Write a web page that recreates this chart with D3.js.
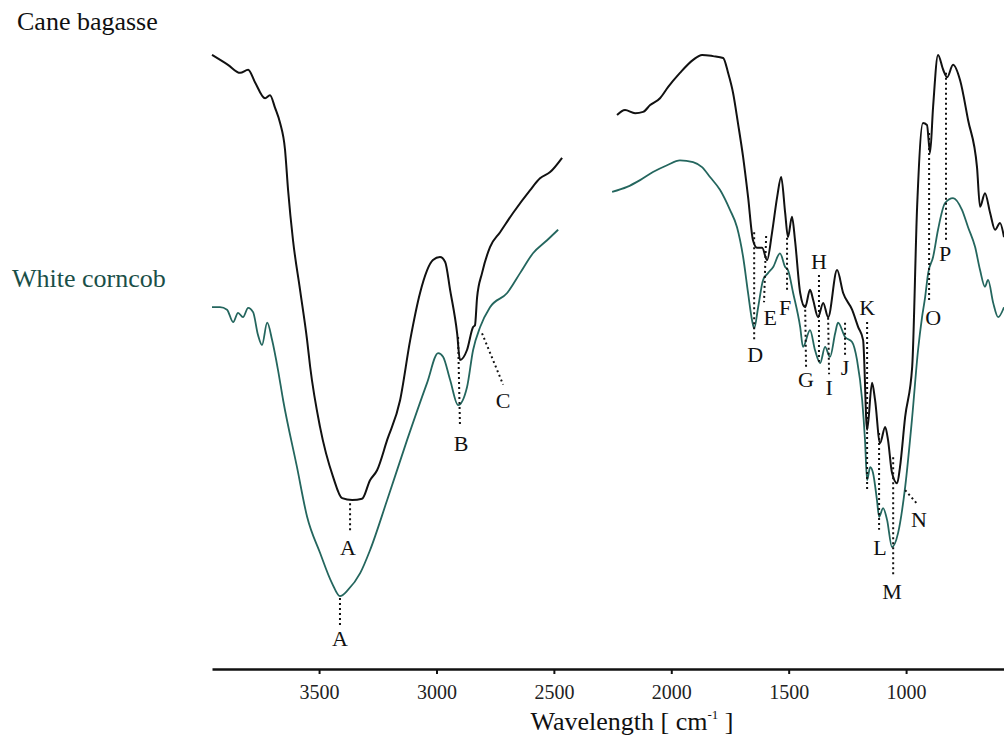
<!DOCTYPE html>
<html>
<head>
<meta charset="utf-8">
<script src="https://cdn.jsdelivr.net/npm/d3@7"></script>
<style>
  body { margin: 0; background: #fff; }
  text { font-family: "Liberation Serif", "DejaVu Serif", serif; }
</style>
</head>
<body>
<svg id="chart" width="1004" height="749"></svg>
<script>
// wavenumber [cm-1], transmittance (arbitrary units)
let bagasseHigh = [
  [3956,97.6],[3888,96.0],[3836,94.7],[3802,95.2],[3773,93.2],[3730,90.6],[3709,91.1],[3687,89.0],
  [3666,86.6],[3645,82.3],[3632,75.8],[3611,67.7],[3581,59.7],[3551,51.6],[3538,47.3],[3496,37.6],
  [3440,29.5],[3402,26.1],[3359,25.8],[3317,26.0],[3283,29.0],[3253,30.6],[3210,35.5],[3155,41.9],
  [3112,51.6],[3070,59.2],[3015,64.5],[2985,65.0],[2963,64.2],[2942,59.7],[2912,52.7],[2900,48.4],
  [2870,50.0],[2844,53.7],[2836,54.0],[2827,58.5],[2806,62.4],[2772,66.6],[2729,69.0],[2674,72.1],
  [2601,75.8],[2559,77.7],[2516,78.7],[2465,81.0]
];
let bagasseLow = [
  [2231,87.9],[2197,88.7],[2154,88.2],[2120,88.4],[2090,89.5],[2048,90.6],[2014,92.4],[1963,94.7],
  [1907,96.8],[1869,97.6],[1822,97.4],[1779,97.1],[1758,94.7],[1737,91.5],[1716,86.6],[1694,81.1],
  [1673,74.7],[1652,67.7],[1635,66.5],[1613,66.5],[1592,64.5],[1571,68.9],[1549,74.7],[1532,77.9],
  [1515,72.1],[1503,68.2],[1486,71.5],[1473,67.7],[1451,59.2],[1430,56.9],[1409,59.7],[1396,58.1],
  [1375,55.3],[1353,57.6],[1332,55.3],[1294,62.9],[1268,59.2],[1230,56.5],[1204,53.7],[1183,51.6],
  [1166,37.1],[1145,44.7],[1132,41.9],[1111,35.0],[1089,37.6],[1077,35.5],[1060,30.2],[1038,28.5],
  [1026,31.1],[1004,39.2],[974,47.3],[953,73.1],[928,86.6],[911,86.3],[898,81.8],[885,89.2],
  [864,97.6],[842,95.2],[825,94.0],[800,96.0],[770,93.5],[736,87.1],[698,79.5],[685,73.1],
  [664,75.3],[642,72.1],[621,69.4],[600,70.5],[583,68.2]
];
let corncobHigh = [
  [3956,56.9],[3922,56.9],[3892,56.5],[3866,54.5],[3845,56.0],[3824,55.3],[3802,56.8],[3781,56.1],
  [3760,52.4],[3743,50.8],[3721,54.4],[3700,51.6],[3675,46.8],[3653,41.9],[3594,31.1],[3551,23.1],
  [3496,17.3],[3445,12.4],[3411,10.3],[3377,11.3],[3325,14.0],[3283,17.7],[3210,25.8],[3125,35.5],
  [3040,44.7],[2993,49.5],[2972,48.9],[2942,45.2],[2908,41.1],[2870,44.0],[2844,50.0],[2814,53.7],
  [2772,56.9],[2699,59.2],[2644,62.4],[2589,65.6],[2529,67.7],[2482,69.4]
];
let corncobLow = [
  [2252,75.5],[2188,76.3],[2133,77.4],[2078,78.7],[2018,79.8],[1963,80.6],[1907,80.3],[1869,79.5],
  [1835,77.9],[1792,75.8],[1750,72.6],[1720,69.8],[1694,65.0],[1673,59.2],[1656,54.8],[1647,53.5],
  [1630,56.9],[1609,61.3],[1588,62.4],[1566,63.4],[1537,65.6],[1515,63.4],[1503,62.9],[1481,59.2],
  [1451,53.7],[1439,50.5],[1409,53.2],[1388,50.0],[1366,47.9],[1345,50.5],[1324,48.9],[1302,52.7],
  [1290,54.4],[1260,52.1],[1230,51.3],[1209,48.4],[1187,41.9],[1175,35.5],[1166,29.0],[1153,31.1],
  [1141,30.2],[1124,25.8],[1115,23.1],[1098,24.5],[1081,22.6],[1060,18.2],[1034,20.5],[1004,27.9],
  [974,39.2],[949,50.0],[932,55.3],[919,58.5],[906,62.4],[885,65.0],[864,69.4],[834,73.7],
  [800,74.5],[762,72.6],[736,69.8],[706,66.6],[685,62.9],[664,60.2],[651,61.3],[629,57.6],
  [608,55.3],[583,56.9]
];
// peak marks: letter, dotted line from (w1,t1) to (w2,t2), letter at (lw,lt)
let peaks = [
  ["A",3368,25.3,3368,20.6,3377,18.2],
  ["A",3411,10.0,3411,5.5,3411,3.5],
  ["B",2908,52.1,2900,37.9,2895,35.0],
  ["C",2806,52.7,2716,44.4,2716,41.9],
  ["D",1647,69.0,1647,51.6,1643,49.2],
  ["E",1596,68.4,1605,57.7,1579,55.2],
  ["F",1507,68.1,1507,59.4,1515,56.9],
  ["G",1430,57.3,1426,47.3,1426,45.2],
  ["H",1371,62.1,1371,48.1,1371,64.2],
  ["I",1332,55.2,1328,46.1,1328,44.0],
  ["J",1260,54.4,1260,49.2,1260,47.1],
  ["K",1166,54.5,1166,27.1,1166,56.8],
  ["L",1115,36.6,1115,21.0,1111,18.1],
  ["M",1055,32.7,1055,13.4,1060,11.0],
  ["N",1004,27.4,949,25.0,945,22.6],
  ["O",902,85.0,902,57.6,885,55.2],
  ["P",830,94.7,830,67.7,834,65.6]
];
let tickValues = [3500, 3000, 2500, 2000, 1500, 1000];
let seriesNames = ["Cane bagasse", "White corncob"];
let seriesColors = ["#111111", "#24665e"];

let svg = d3.select("#chart");
let x = d3.scaleLinear().domain([3956, 583]).range([212, 1004]);
let y = d3.scaleLinear().domain([0, 100]).range([660, 40]);

let line = d3.line()
  .x(d => x(d[0]))
  .y(d => y(d[1]))
  .curve(d3.curveMonotoneX);

let curves = [
  [bagasseHigh, 0], [bagasseLow, 0], [corncobHigh, 1], [corncobLow, 1]
];
svg.append("g").selectAll("path")
  .data(curves)
  .enter().append("path")
    .attr("d", d => line(d[0]))
    .attr("fill", "none")
    .attr("stroke", d => seriesColors[d[1]])
    .attr("stroke-width", d => d[1] === 0 ? 2 : 1.8)
    .attr("stroke-linejoin", "round");

// dotted peak markers
let marks = svg.append("g");
marks.selectAll("line")
  .data(peaks)
  .enter().append("line")
    .attr("x1", d => x(d[1]))
    .attr("y1", d => y(d[2]))
    .attr("x2", d => x(d[3]))
    .attr("y2", d => y(d[4]))
    .attr("stroke", "#111")
    .attr("stroke-width", 2)
    .attr("stroke-dasharray", "2,3");

marks.selectAll("text")
  .data(peaks)
  .enter().append("text")
    .attr("x", d => x(d[5]))
    .attr("y", d => y(d[6]))
    .attr("text-anchor", "middle")
    .attr("dominant-baseline", "central")
    .attr("font-size", 22)
    .attr("fill", "#111")
    .text(d => d[0]);

// x axis
let axis = svg.append("g")
  .attr("transform", "translate(0,669)")
  .call(d3.axisBottom(x).tickValues(tickValues).tickFormat(d3.format("d"))
    .tickSize(5).tickSizeOuter(0).tickPadding(11));
axis.select(".domain").attr("stroke", "#111").attr("stroke-width", 2.5);
axis.selectAll(".tick line").attr("stroke", "#111").attr("stroke-width", 2);
axis.selectAll(".tick text")
  .attr("font-family", "Liberation Serif, serif")
  .attr("font-size", 20)
  .attr("fill", "#222");

let title = svg.append("text")
  .attr("x", 632)
  .attr("y", 730)
  .attr("text-anchor", "middle")
  .attr("font-size", 26)
  .attr("fill", "#111");
title.append("tspan").text("Wavelength [ cm");
title.append("tspan").attr("font-size", 13).attr("dy", -11).text("-1");
title.append("tspan").attr("dy", 11).text(" ]");

// series names
svg.append("text").attr("x", 17).attr("y", 30).attr("font-size", 26)
  .attr("fill", "#111").text(seriesNames[0]);
svg.append("text").attr("x", 12).attr("y", 287).attr("font-size", 26)
  .attr("fill", "#1a4f48").text(seriesNames[1]);
</script>
</body>
</html>
